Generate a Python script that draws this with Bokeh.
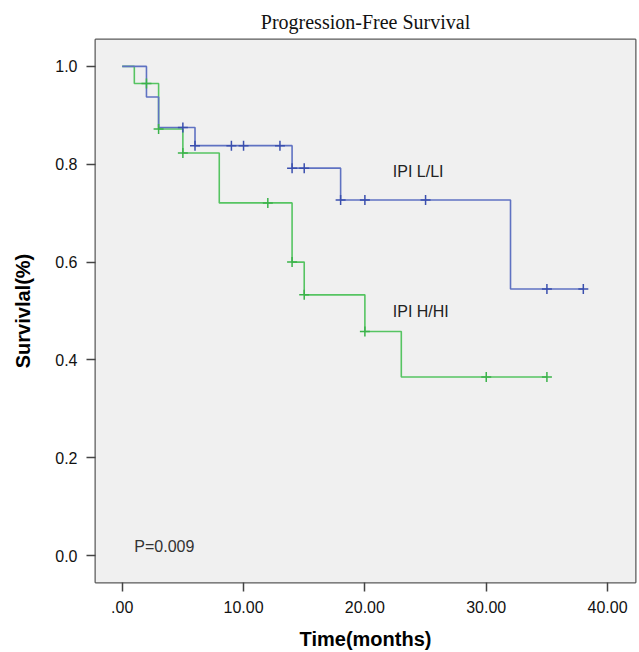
from bokeh.plotting import figure
from bokeh.models import Label, FixedTicker, Range1d, BoxAnnotation
from bokeh.embed import file_html
from bokeh.resources import INLINE

# Kaplan-Meier step data (time in months, survival proportion)
low_t = [0, 2, 3, 6, 14, 18, 32, 38]
low_s = [1.0, 0.9375, 0.875, 0.838, 0.792, 0.727, 0.545, 0.545]
low_cens_t = [5, 6, 9, 10, 13, 14, 15, 18, 20, 25, 35, 38]
low_cens_s = [0.875, 0.838, 0.838, 0.838, 0.838, 0.792, 0.792, 0.727, 0.727, 0.727, 0.545, 0.545]

high_t = [0, 1, 3, 5, 8, 14, 15, 20, 23, 35]
high_s = [1.0, 0.965, 0.872, 0.823, 0.721, 0.600, 0.533, 0.458, 0.365, 0.365]
high_cens_t = [2, 3, 5, 12, 14, 15, 20, 30, 35]
high_cens_s = [0.965, 0.872, 0.823, 0.721, 0.600, 0.533, 0.458, 0.365, 0.365]

x_ticks = [0, 10, 20, 30, 40]
x_tick_labels = [".00", "10.00", "20.00", "30.00", "40.00"]
y_ticks = [0.0, 0.2, 0.4, 0.6, 0.8, 1.0]
y_tick_labels = ["0.0", "0.2", "0.4", "0.6", "0.8", "1.0"]

X0, X1 = -2.2, 42.3
Y0, Y1 = -0.055, 1.055

p = figure(width=639, height=652, output_backend="svg", toolbar_location=None,
           x_range=Range1d(X0, X1), y_range=Range1d(Y0, Y1),
           title="Progression-Free Survival")
p.min_border_left = 95
p.min_border_right = 4
p.min_border_top = 39
p.min_border_bottom = 70
p.background_fill_color = "white"
p.border_fill_color = "white"

p.title.align = "center"
p.title.text_font = "Liberation Serif"
p.title.text_font_size = "20px"
p.title.text_font_style = "normal"
p.title.text_color = "#111111"
p.title.standoff = 13

p.outline_line_color = "#5a5a5a"
p.outline_line_width = 2

p.add_layout(BoxAnnotation(left=X0, right=X1, bottom=Y0, top=Y1,
                           fill_color="#f0f0f0", fill_alpha=1, line_alpha=0, level="underlay"))

p.xgrid.visible = False
p.ygrid.visible = False

for ax in (p.xaxis[0], p.yaxis[0]):
    ax.axis_line_color = None
    ax.major_tick_in = 0
    ax.major_tick_out = 9
    ax.major_tick_line_color = "#444444"
    ax.major_tick_line_width = 1.5
    ax.minor_tick_line_color = None
    ax.major_label_text_font = "Liberation Sans"
    ax.major_label_text_font_size = "16px"
    ax.major_label_text_color = "#111111"
    ax.axis_label_text_font = "Liberation Sans"
    ax.axis_label_text_font_style = "bold"
    ax.axis_label_text_color = "#000000"

p.xaxis.ticker = FixedTicker(ticks=x_ticks)
p.xaxis.major_label_overrides = {t: l for t, l in zip(x_ticks, x_tick_labels)}
p.yaxis.ticker = FixedTicker(ticks=y_ticks)
p.yaxis.major_label_overrides = {t: l for t, l in zip(y_ticks, y_tick_labels)}
p.xaxis.axis_label = "Time(months)"
p.yaxis.axis_label = "Survivlal(%)"
p.xaxis.axis_label_text_font_size = "20px"
p.yaxis.axis_label_text_font_size = "20px"
p.xaxis.major_label_standoff = 9
p.yaxis.major_label_standoff = 9
p.xaxis.axis_label_standoff = 12
p.yaxis.axis_label_standoff = 18

blue_line = "#5f72c2"
blue_mark = "#3a4fae"
green_line = "#56c462"
green_mark = "#3bb34a"

p.step(high_t, high_s, mode="after", line_color=green_line, line_width=1.6)
p.step(low_t, low_s, mode="after", line_color=blue_line, line_width=1.6)
p.scatter(high_cens_t, high_cens_s, marker="cross", size=10, line_color=green_mark, line_width=1.5)
p.scatter(low_cens_t, low_cens_s, marker="cross", size=10, line_color=blue_mark, line_width=1.5)

for txt, x, y, col in [("IPI L/LI", 22.3, 0.785, "#222222"),
                       ("IPI H/HI", 22.3, 0.499, "#222222"),
                       ("P=0.009", 1.0, 0.018, "#333333")]:
    p.add_layout(Label(x=x, y=y, text=txt, text_font="Liberation Sans",
                       text_font_size="16px", text_color=col,
                       text_baseline="middle", text_align="left"))

open("out.html", "w").write(file_html(p, INLINE))
